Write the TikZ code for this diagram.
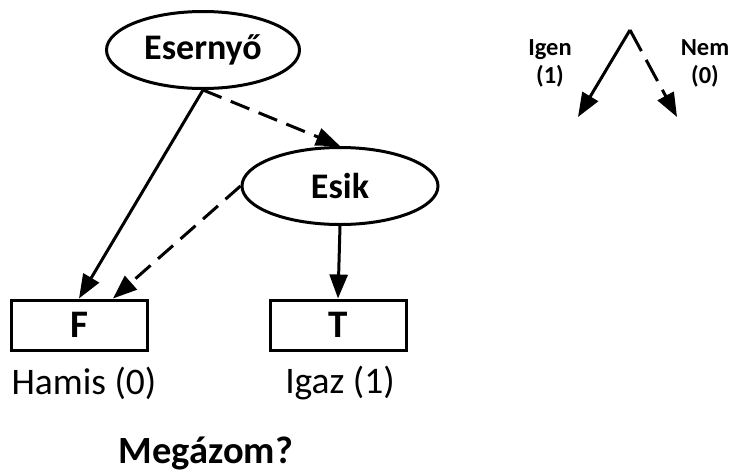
\documentclass[tikz,border=0pt]{standalone}
\usepackage{fontspec}
\setmainfont{Carlito}
\usetikzlibrary{shapes.geometric,arrows.meta}

\begin{document}
\begin{tikzpicture}[x=1pt,y=-1pt,
		line width=3pt,
		var/.style={ellipse,draw,inner sep=0pt,minimum width=#1,minimum height=77pt,
			font=\fontsize{36}{42}\selectfont\bfseries},
		var/.default=193pt,
		leaf/.style={rectangle,draw,inner sep=0pt,minimum width=136pt,minimum height=50pt,
			font=\fontsize{39}{44}\selectfont\bfseries},
		caption/.style={font=\fontsize{37.5}{42}\selectfont},
		hi/.style={-{Triangle[length=24pt,width=18pt]}},
		lo/.style={hi,dash pattern=on 20pt off 10pt},
		legend/.style={align=center,font=\fontsize{24.5}{28}\selectfont\bfseries}]
		
		\useasboundingbox (0,0) rectangle (734,472);
		
		%knoten
		\node[var] (esernyo) at (203,50) {Esernyő};
		\node[var=196pt] (esik) at (340,186) {Esik};
		\node[leaf] (F) at (79,325) {F};
		\node[leaf] (T) at (338,325) {T};
		
		%beschriftung
		\node[caption] (hamis) at (84,383) {Hamis (0)};
		\node[caption] (igaz) at (340,383) {Igaz (1)};
		\node[caption,font=\fontsize{38.5}{42}\selectfont\bfseries] (frage) at (206,453) {Megázom?};
		
		%kanten
		\draw[hi] (esernyo.south) -- (F.north);
		\draw[lo] (esernyo.south) -- (esik.north);
		\draw[lo] (esik.west) -- ([xshift=34pt]F.north);
		\draw[hi] (esik.south) -- (T.north);
		
		%legende
		\coordinate (spitze) at (630,30);
		\coordinate (links) at (578,117);
		\coordinate (rechts) at (677,117);
		\draw[hi] (spitze) -- (links);
		\draw[lo,dash pattern=on 24pt off 10pt] (spitze) -- (rechts);
		\node[legend] (igen) at (550,63) {Igen\\(1)};
		\node[legend] (nem) at (705,63) {Nem\\(0)};
		
\end{tikzpicture}
\end{document}
